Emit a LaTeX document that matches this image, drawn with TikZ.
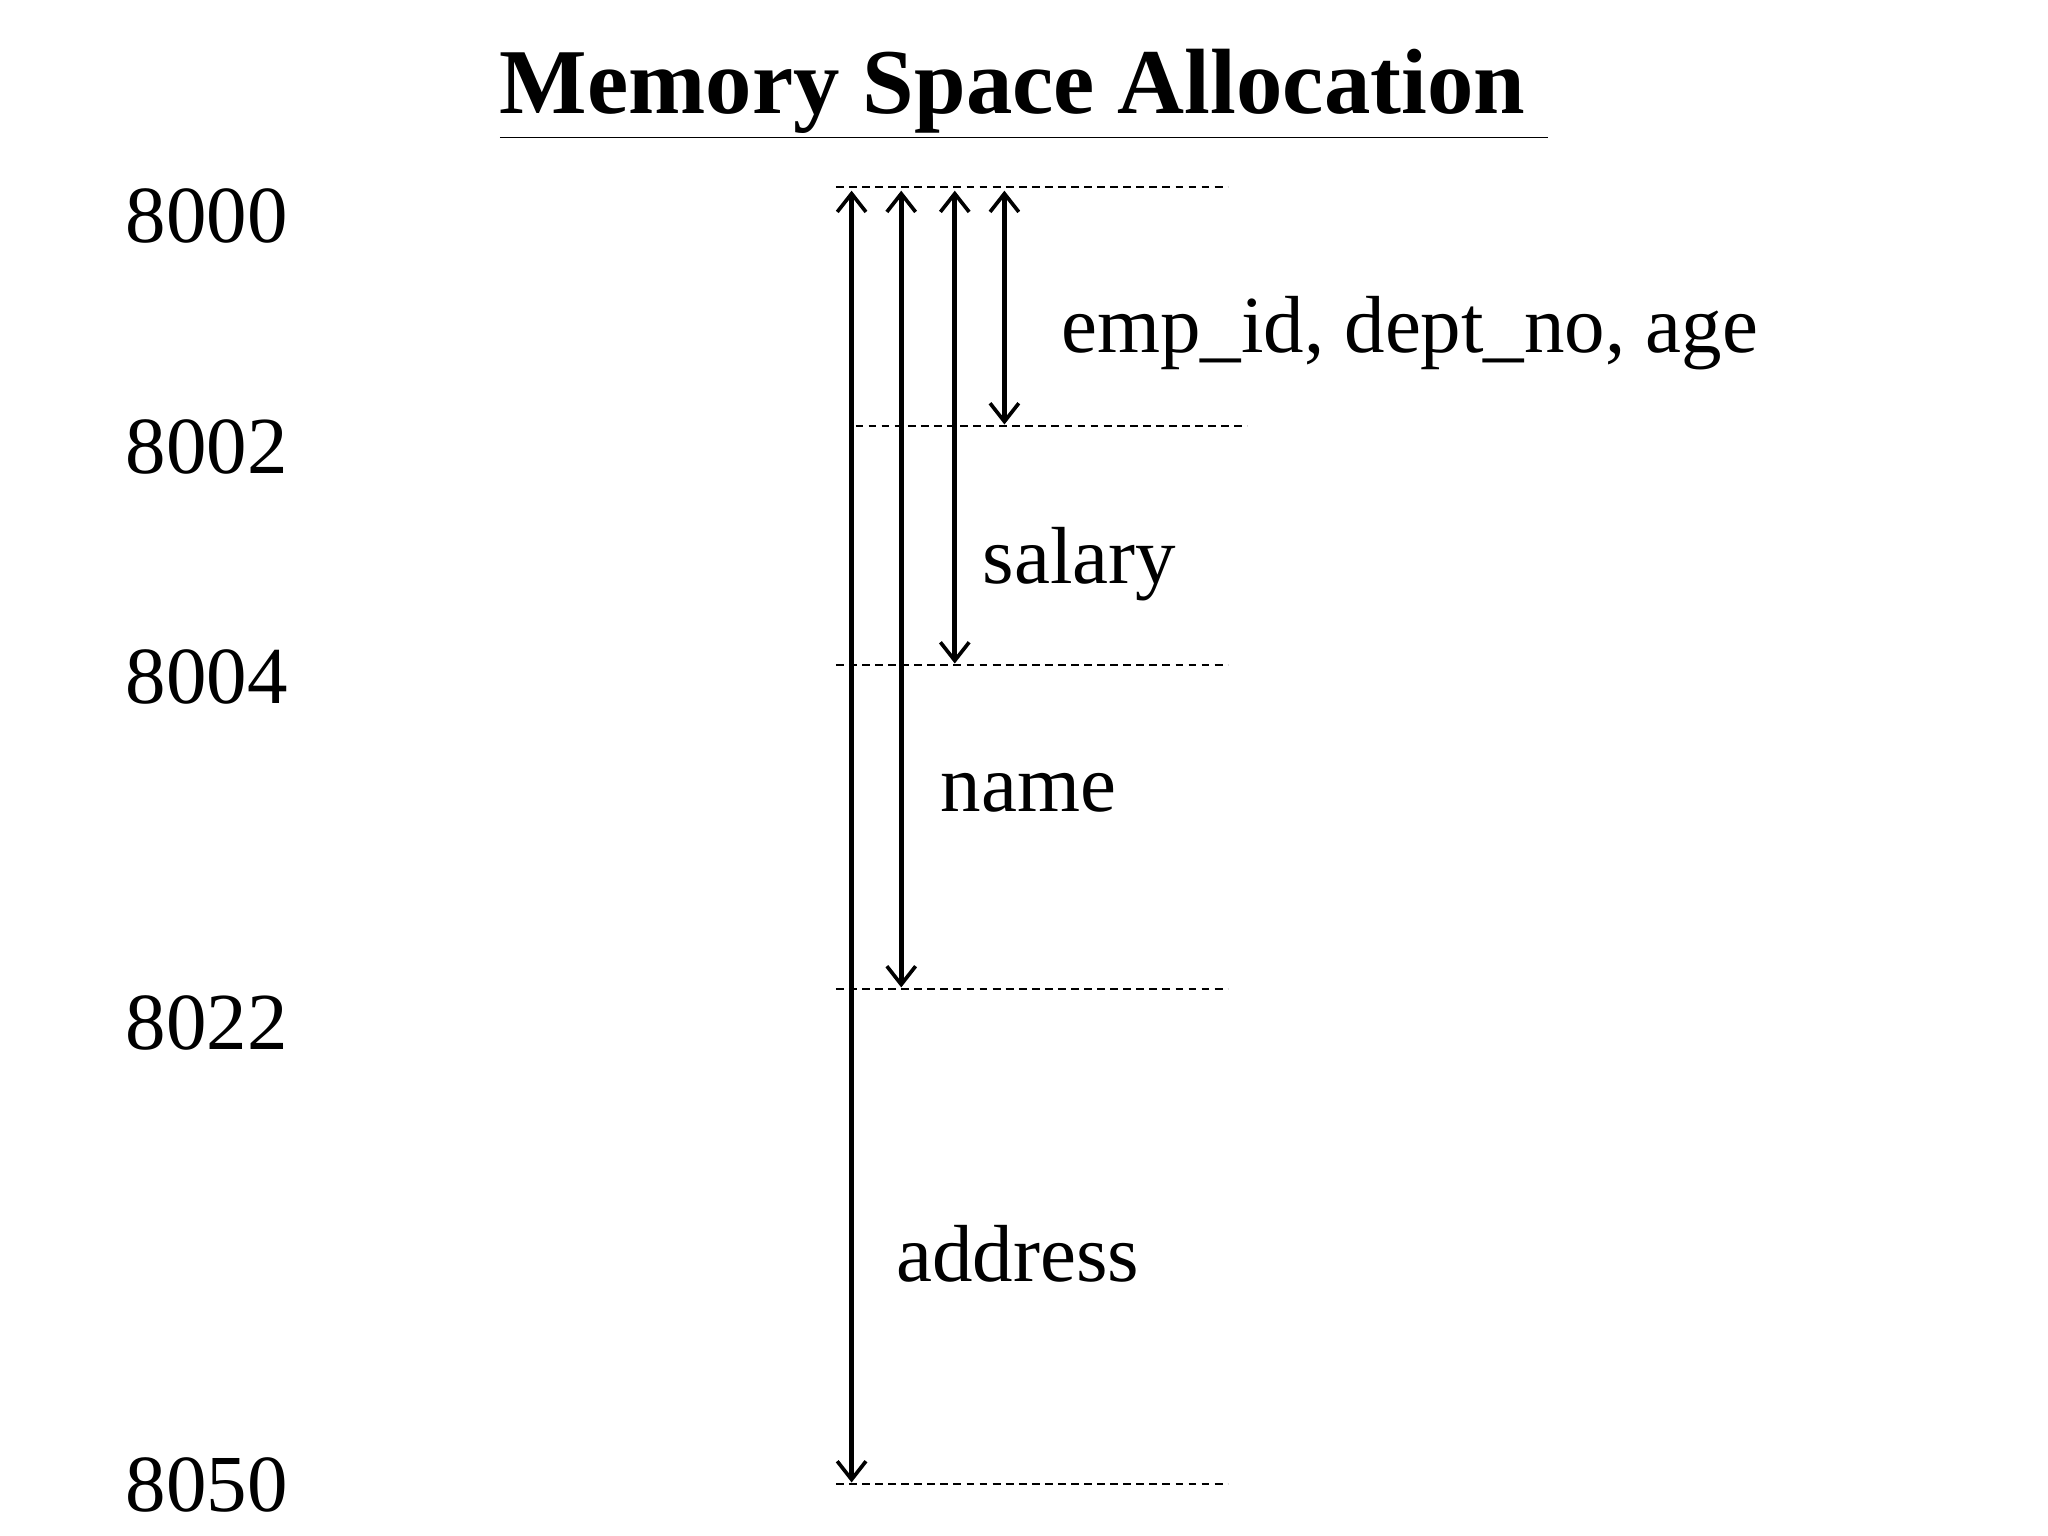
\documentclass[tikz,border=0pt]{standalone}
\usepackage{fontspec}
\setmainfont{Liberation Serif}
\usetikzlibrary{arrows.meta}
\begin{document}
\begin{tikzpicture}[x=0.5pt,y=-0.5pt,
  lbl/.style={font=\fontsize{31}{36}\selectfont, anchor=west, inner sep=0pt},
  num/.style={font=\fontsize{31}{36}\selectfont, anchor=west, inner sep=0pt},
  guide/.style={dashed, line width=0.6pt, dash pattern=on 3pt off 2pt},
  span/.style={line width=2pt, {Straight Barb[length=7pt,width=11pt,line width=1.4pt]}-{Straight Barb[length=7pt,width=11pt,line width=1.4pt]}}]
\useasboundingbox (0,0) rectangle (1568,1176);
\node[font=\bfseries\fontsize{35.5}{40}\selectfont, inner sep=0pt] (title) at (784,72) {\underline{Memory Space Allocation\ }};
% labels
\node[num] (n0) at (96,165) {8000};
\node[num] (n1) at (96,342) {8002};
\node[num] (n2) at (96,518) {8004};
\node[num] (n3) at (96,783) {8022};
\node[num] (n4) at (96,1137) {8050};
% guides
\coordinate (g0a) at (640,143); \coordinate (g0b) at (940,143);
\coordinate (g1a) at (655,326); \coordinate (g1b) at (955,326);
\coordinate (g2a) at (640,509); \coordinate (g2b) at (940,509);
\coordinate (g3a) at (640,757); \coordinate (g3b) at (940,757);
\coordinate (g4a) at (640,1136); \coordinate (g4b) at (940,1136);
\draw[guide] (g0a) -- (g0b);
\draw[guide] (g1a) -- (g1b);
\draw[guide] (g2a) -- (g2b);
\draw[guide] (g3a) -- (g3b);
\draw[guide] (g4a) -- (g4b);
% arrows
\coordinate (a1t) at (652,146); \coordinate (a1b) at (652,1135);
\coordinate (a2t) at (690,146); \coordinate (a2b) at (690,756);
\coordinate (a3t) at (731,146); \coordinate (a3b) at (731,508);
\coordinate (a4t) at (769,146); \coordinate (a4b) at (769,325);
\draw[span] (a1t) -- (a1b);
\draw[span] (a2t) -- (a2b);
\draw[span] (a3t) -- (a3b);
\draw[span] (a4t) -- (a4b);
\node[lbl] (l1) at (812,255) {emp\_id, dept\_no, age};
\node[lbl] (l2) at (752,432) {salary};
\node[lbl] (l3) at (720,607) {name};
\node[lbl] (l4) at (686,960) {address};
\end{tikzpicture}
\end{document}
